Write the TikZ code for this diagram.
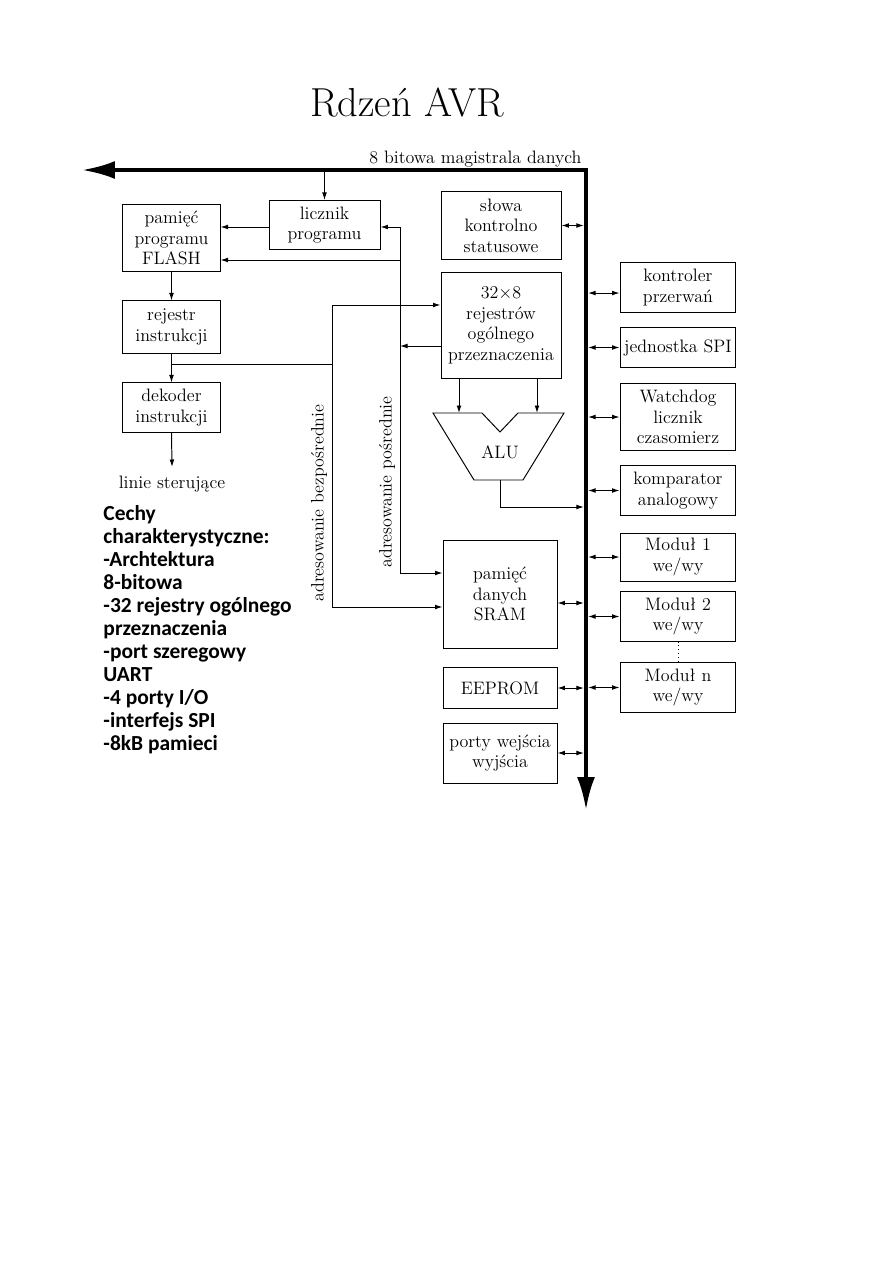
\documentclass[tikz,border=0pt]{standalone}
\usepackage{fontspec}
\newfontfamily\cechyfont{Carlito}
\usetikzlibrary{arrows.meta}

\begin{document}
\begin{tikzpicture}[x=0.6667pt, y=-0.6667pt, line width=0.65pt,
      every node/.style={font=\fontsize{12}{13.7}\selectfont},
      blok/.style={draw, align=center, inner sep=1pt},
      arr/.style={-{Latex[length=5pt,width=3.2pt]}},
      io/.style={{Latex[length=5pt,width=3.2pt]}-{Latex[length=5pt,width=3.2pt]}, shorten <=1.4pt},
      bus/.style={line width=2.7pt, {Latex[length=22pt,width=12pt]}-{Latex[length=22pt,width=12pt]}}]
      \useasboundingbox (0,0) rectangle (893,1263);

      \node[anchor=base, font=\fontsize{27}{32}\selectfont] (title) at (407,116) {Rdzeń AVR};

      % data bus
      \coordinate (busl) at (82,170);
      \coordinate (bc) at (586,170);
      \coordinate (busd) at (586,810);
      \draw[bus] (busl) -- (bc) -- (busd);
      \node[anchor=base east, inner sep=0] (buslbl) at (582,163) {8 bitowa magistrala danych};

      % left column
      \node[blok, minimum width=64.7pt, minimum height=45.3pt] (flash) at (171.5,238) {pamięć\\programu\\FLASH};
      \node[blok, minimum width=64.7pt, minimum height=34.7pt] (ri) at (171.5,327) {rejestr\\instrukcji};
      \node[blok, minimum width=64.7pt, minimum height=32.7pt] (di) at (171.5,407.5) {dekoder\\instrukcji};
      \node[anchor=north, inner sep=6pt] (linie) at (172,467) {linie sterujące};
      \node[blok, minimum width=74pt, minimum height=32.7pt] (lp) at (324.5,225) {licznik\\programu};

      % middle column
      \node[blok, minimum width=80pt, minimum height=44.7pt] (sk) at (501,225.5) {słowa\\kontrolno\\statusowe};
      \node[blok, minimum width=80pt, minimum height=71.3pt] (reg) at (501,325.5) {$32{\times}8$\\rejestrów\\ogólnego\\przeznaczenia};
      \node[blok, minimum width=76pt, minimum height=72pt] (sram) at (500,594) {pamięć\\danych\\SRAM};
      \node[blok, minimum width=76pt, minimum height=26.7pt] (eeprom) at (500,688) {EEPROM};
      \node[blok, minimum width=76pt, minimum height=40pt] (porty) at (500,753) {porty wejścia\\wyjścia};

      % ALU
      \coordinate (a1) at (433,413);
      \coordinate (a2) at (482,413);
      \coordinate (a3) at (500,432);
      \coordinate (a4) at (518,413);
      \coordinate (a5) at (564,413);
      \coordinate (a6) at (523,480);
      \coordinate (a7) at (474,480);
      \draw (a1) -- (a2) -- (a3) -- (a4) -- (a5) -- (a6) -- (a7) -- cycle;
      \node (alu) at (500,452) {ALU};

      % right column
      \node[blok, minimum width=77.3pt, minimum height=32.7pt] (kp) at (678,287.5) {kontroler\\przerwań};
      \node[blok, minimum width=77.3pt, minimum height=27.3pt] (spi) at (678,347.5) {jednostka SPI};
      \node[blok, minimum width=77.3pt, minimum height=45.3pt] (wd) at (678,417) {Watchdog\\licznik\\czasomierz};
      \node[blok, minimum width=77.3pt, minimum height=32.7pt] (ka) at (678,490.5) {komparator\\analogowy};
      \node[blok, minimum width=77.3pt, minimum height=32pt] (m1) at (678,557) {Moduł 1\\we/wy};
      \node[blok, minimum width=77.3pt, minimum height=32.7pt] (m2) at (678,616.5) {Moduł 2\\we/wy};
      \node[blok, minimum width=77.3pt, minimum height=32.7pt] (mn) at (678,687.5) {Moduł n\\we/wy};

      % addressing lines
      \coordinate (rowd) at (332,364);
      \coordinate (dtop) at (332,305);
      \coordinate (dbot) at (332,607);
      \coordinate (itop) at (400,227);
      \coordinate (ifl) at (400,260);
      \coordinate (iro) at (400,346);
      \coordinate (ibot) at (400,573);
      \coordinate (in1) at (459,413);
      \coordinate (in2) at (537,413);
      \coordinate (out) at (500,480);
      \coordinate (outc) at (500,507);

      \draw[arr] (lp.north |- bc) -- (lp.north);
      \draw[arr] (lp.west |- itop) -- (itop -| flash.east);
      \draw[arr] (flash.south) -- (ri.north);
      \draw[arr] (ri.south) -- (di.north);
      \draw[arr] (di.south) -- (linie.north);
      \draw (ri.south |- rowd) -- (rowd);
      \draw[arr] (rowd) -- (dtop) -- (dtop -| reg.west);
      \draw[arr] (rowd) -- (dbot) -- (dbot -| sram.west);
      \draw[arr] (ibot) -- (itop) -- (itop -| lp.east);
      \draw[arr] (ifl) -- (ifl -| flash.east);
      \draw[arr] (iro -| reg.west) -- (iro);
      \draw[arr] (ibot) -- (ibot -| sram.west);
      \draw[arr] (in1 |- reg.south) -- (in1);
      \draw[arr] (in2 |- reg.south) -- (in2);
      \draw[arr, shorten >=1.4pt] (out) -- (outc) -- (outc -| bc);

      \node[rotate=90, inner sep=0] (bezp) at (319,503) {adresowanie bezpośrednie};
      \node[rotate=90, inner sep=0] (posr) at (387,482) {adresowanie pośrednie};

      % connections to the bus
      \draw[io] (sk.east -| bc) -- (sk.east);
      \draw[io] ([yshift=-6pt]sram.east -| bc) -- ([yshift=-6pt]sram.east);
      \draw[io] (eeprom.east -| bc) -- (eeprom.east);
      \draw[io] (porty.east -| bc) -- (porty.east);
      \draw[io] ([yshift=-3.7pt]kp.west -| bc) -- ([yshift=-3.7pt]kp.west);
      \draw[io] (spi.west -| bc) -- (spi.west);
      \draw[io] (wd.west -| bc) -- (wd.west);
      \draw[io] (ka.west -| bc) -- (ka.west);
      \draw[io] (m1.west -| bc) -- (m1.west);
      \draw[io] (m2.west -| bc) -- (m2.west);
      \draw[io] (mn.west -| bc) -- (mn.west);
      \draw[dotted] (m2.south) -- (mn.north);

      \node[anchor=north west, inner sep=0, align=left,
        font=\cechyfont\bfseries\fontsize{14.3}{15.3}\selectfont] (cechy) at (103,505)
        {Cechy\\charakterystyczne:\\-Archtektura\\8-bitowa\\-32 rejestry ogólnego\\przeznaczenia\\-port szeregowy\\UART\\-4 porty I/O\\-interfejs SPI\\-8kB pamieci};
    \end{tikzpicture}
\end{document}
